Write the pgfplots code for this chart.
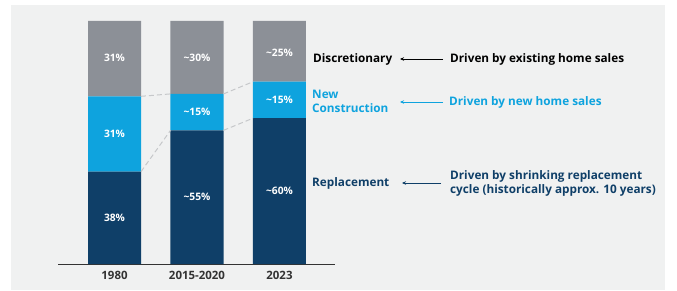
\documentclass[border=0pt]{standalone}
\usepackage{pgfplots}
\pgfplotsset{compat=1.18}
\usepackage{fontspec}
\setmainfont{Open Sans}
\usetikzlibrary{arrows.meta}
\definecolor{bg}{HTML}{F0F1F1}
\definecolor{cgray}{HTML}{8C9097}
\definecolor{clight}{HTML}{0EA3DE}
\definecolor{cnavy}{HTML}{0F3F68}
\definecolor{ticktext}{HTML}{333333}
\definecolor{dashc}{HTML}{C6C8CA}
\newcommand{\annfont}{\bfseries\fontsize{11.8}{14}\selectfont}
\begin{document}
\begin{tikzpicture}[x=1bp,y=1bp]
\path[use as bounding box] (0,0) rectangle (677,290);
\fill[white] (0,0) rectangle (677,290);
\fill[bg] (11,0) rectangle (665,285);
\pgfplotsset{base/.style={
  at={(58bp,26bp)}, anchor=south west,
  scale only axis, width=277bp, height=243bp,
  xmin=-0.685, xmax=2.673, ymin=0, ymax=100}}
\begin{axis}[base,
  ybar stacked, bar width=53bp,
  axis x line=bottom, axis y line=none,
  axis line style={-, color=ticktext, line width=0.8pt},
  xtick={0,1,2}, xticklabels={1980,2015-2020,2023},
  major tick length=0pt,
  xticklabel style={font=\bfseries\fontsize{11.5}{13}\selectfont, text=ticktext, yshift=-3.5bp},
  /pgf/number format/assume math mode=true]
\addplot[fill=cnavy, draw=none] coordinates {(0,38) (1,55) (2,60)};
\addplot[fill=clight, draw=none] coordinates {(0,31) (1,15) (2,15)};
\addplot[fill=cgray, draw=none] coordinates {(0,31) (1,30) (2,25)};
\end{axis}
\begin{axis}[base, hide axis, clip=false]
\addplot[dashc, line width=1pt, dash pattern=on 5pt off 3pt] coordinates {(0.321,69) (0.679,70)};
\addplot[dashc, line width=1pt, dash pattern=on 5pt off 3pt] coordinates {(0.321,38) (0.679,55)};
\addplot[dashc, line width=1pt, dash pattern=on 5pt off 3pt] coordinates {(1.321,70) (1.679,75)};
\addplot[dashc, line width=1pt, dash pattern=on 5pt off 3pt] coordinates {(1.321,55) (1.679,60)};
\addplot[draw=none, mark=none, nodes near coords, point meta=explicit symbolic,
  nodes near coords align=center,
  every node near coord/.append style={font=\bfseries\fontsize{10.3}{12}\selectfont, text=white}]
  coordinates {
  (0,19) [38\%] (0,53.5) [31\%] (0,84.8) [31\%]
  (1,27.6) [\textasciitilde55\%] (1,62.5) [\textasciitilde15\%] (1,85) [\textasciitilde30\%]
  (2,30) [\textasciitilde60\%] (2,67.5) [\textasciitilde15\%] (2,86.8) [\textasciitilde25\%]};
\end{axis}
% annotations
\node[anchor=west, inner sep=0pt, text=black, font=\annfont] at (313,231) {Discretionary};
\node[anchor=west, inner sep=0pt, text=clight, font=\annfont, align=left] at (312,189) {New\\Construction};
\node[anchor=west, inner sep=0pt, text=cnavy, font=\annfont] at (312,107) {Replacement};
\draw[black, line width=0.8pt, -{Stealth[length=4pt,width=3.5pt]}] (443,231) -- (400,231);
\draw[clight, line width=0.8pt, -{Stealth[length=4pt,width=3.5pt]}] (443,188) -- (400,188);
\draw[cnavy, line width=0.8pt, -{Stealth[length=4pt,width=3.5pt]}] (441,107) -- (402,107);
\node[anchor=west, inner sep=0pt, text=black, font=\annfont] at (450,231) {Driven by existing home sales};
\node[anchor=west, inner sep=0pt, text=clight, font=\annfont] at (449,188) {Driven by new home sales};
\node[anchor=west, inner sep=0pt, text=cnavy, font=\annfont, align=left] at (450,107) {Driven by shrinking replacement\\cycle (historically approx. 10 years)};
\end{tikzpicture}
\end{document}
